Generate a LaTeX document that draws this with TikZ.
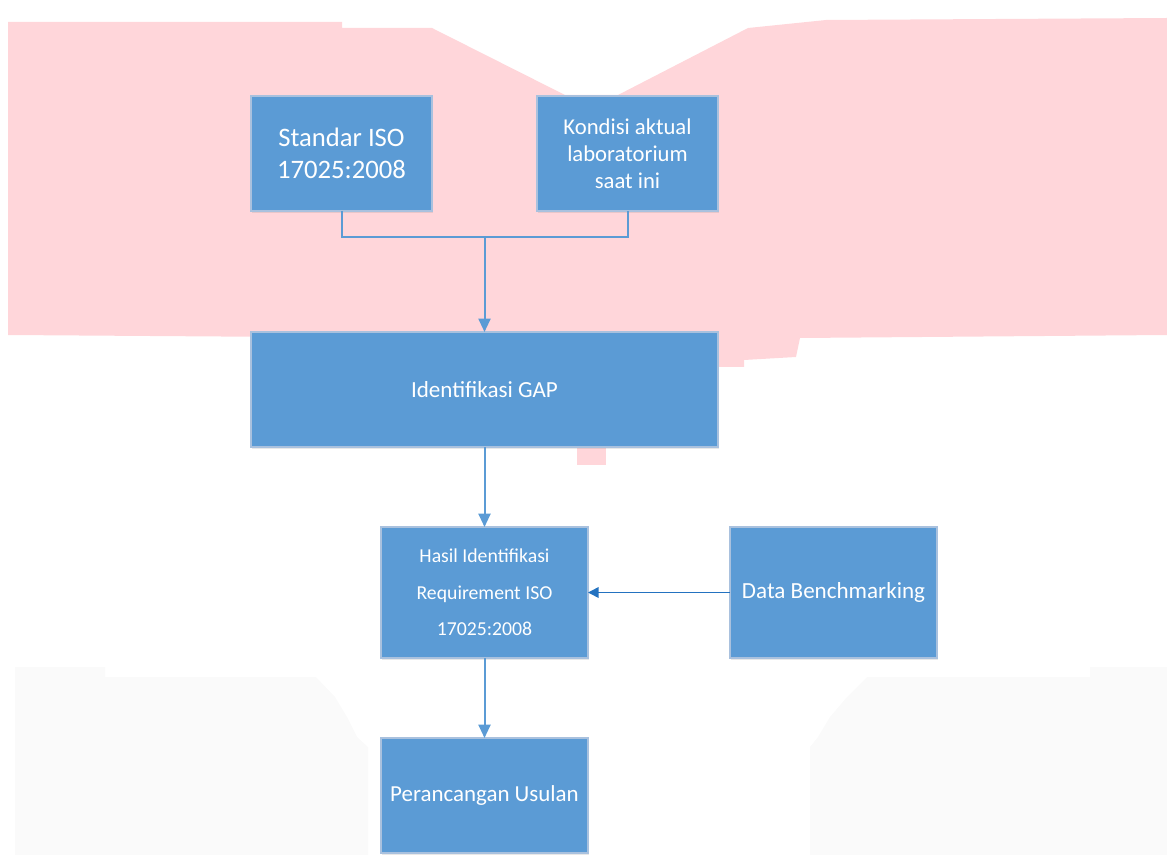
\documentclass[tikz,border=0pt]{standalone}
\usepackage{fontspec}
\setmainfont{Carlito}
\usepackage{tikz}
\usetikzlibrary{positioning,arrows.meta,shadows}
\definecolor{palBox}{HTML}{5B9BD5}
\definecolor{palEdge}{HTML}{A9C1DE}
\definecolor{palLine}{HTML}{5B9BD5}
\definecolor{palLineDk}{HTML}{2372C0}
\definecolor{palPink}{HTML}{FFD6DA}
\definecolor{palHaze}{HTML}{FAFAFA}
\def\px{0.75pt}
\tikzset{
  flowbox/.style={draw=palEdge, line width=0.8pt, fill=palBox, text=white,
                  align=center, inner sep=2pt, outer sep=0pt,
                  drop shadow={opacity=0.18, shadow xshift=1pt, shadow yshift=-1.5pt}},
  flowline/.style={draw=palLine, line width=1.5pt},
  flowarrow/.style={flowline, -{Triangle[length=10pt, width=9pt]}},
  sidearrow/.style={draw=palLineDk, line width=1.2pt, -{Triangle[length=8pt, width=8pt]}},
}
\begin{document}
\begin{tikzpicture}[x=\px, y=-\px]
\useasboundingbox (0,0) rectangle (1167,855);

%% Background haze
\fill[palPink] (8,22) -- (342,22) -- (342,28) -- (432,28) -- (565,95) -- (618,95)
  -- (748,28) -- (826,20) -- (1167,18) -- (1167,335) -- (800,338) -- (796,357)
  -- (744,360) -- (744,367) -- (718,367) -- (718,340) -- (8,335) -- cycle;
\fill[palPink] (577,447) rectangle (606,465);
\fill[palHaze] (15,667) -- (105,667) -- (105,677) -- (316,677) -- (335,697) -- (347,717)
  -- (357,737) -- (368,747) -- (368,855) -- (15,855) -- cycle;
\fill[palHaze] (1167,667) -- (1090,667) -- (1090,677) -- (867,677) -- (847,697) -- (830,717)
  -- (818,737) -- (810,747) -- (810,855) -- (1167,855) -- cycle;

%% Top row
\node[flowbox, minimum width=181*\px, minimum height=115*\px,
      font=\fontsize{20}{24}\selectfont] (std) at (341.5,153.5) {Standar ISO\\17025:2008};
\node[flowbox, minimum width=181*\px, minimum height=115*\px,
      font=\fontsize{17}{20.3}\selectfont, right=105*\px of std] (kond)
      {Kondisi aktual\\laboratorium\\saat ini};

%% Gap analysis
\node[flowbox, minimum width=467*\px, minimum height=115*\px,
      font=\fontsize{17.3}{20}\selectfont] (gap) at (484.5,389.5) {Identifikasi GAP};

%% Result and benchmark
\node[flowbox, minimum width=207*\px, minimum height=131*\px,
      font=\fontsize{14.8}{27.5}\selectfont] (hasil) at (484.5,592.5)
      {Hasil Identifikasi\\Requirement ISO\\17025:2008};
\node[flowbox, minimum width=207*\px, minimum height=131*\px,
      font=\fontsize{17.3}{20}\selectfont, right=142*\px of hasil] (bench) {Data Benchmarking};

%% Proposal
\node[flowbox, minimum width=207*\px, minimum height=115*\px,
      font=\fontsize{17.2}{20}\selectfont] (usul) at (484.5,795.5) {Perancangan Usulan};

%% Connectors
\coordinate (join) at (484.5,237);
\draw[flowline] (std.south) |- (join) -| (kond.south);
\draw[flowarrow] (join) -- (gap.north);
\draw[flowarrow] (gap.south) -- (hasil.north);
\draw[flowarrow] (hasil.south) -- (usul.north);
\draw[sidearrow] (bench.west) -- (hasil.east);
\end{tikzpicture}
\end{document}
